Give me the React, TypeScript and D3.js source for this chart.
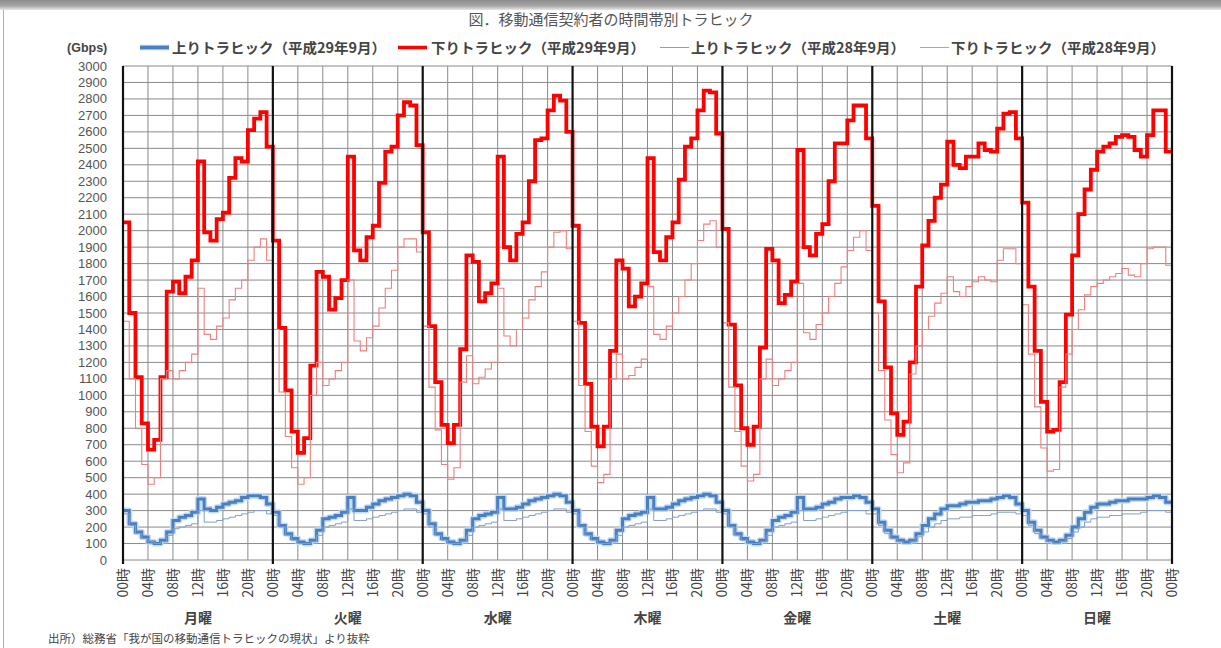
import React from 'react';
import * as d3 from 'd3';

const W = 1221;
const H = 648;

const title = '図．移動通信契約者の時間帯別トラヒック';
const unitLabel = '(Gbps)';
const source = '出所）総務省「我が国の移動通信トラヒックの現状」より抜粋';
const days = ['月曜', '火曜', '水曜', '木曜', '金曜', '土曜', '日曜'];
const hourTickHours = [0, 4, 8, 12, 16, 20];
const hourTickLabels = ['00時', '04時', '08時', '12時', '16時', '20時'];
const endTickLabel = '00時';
const seriesNames = [
  '上りトラヒック（平成29年9月）',
  '下りトラヒック（平成29年9月）',
  '上りトラヒック（平成28年9月）',
  '下りトラヒック（平成28年9月）',
];

// 上りトラヒック（平成29年9月） hourly, Mon..Sun
const upH29 = [
  [300, 220, 170, 140, 110, 100, 120, 170, 240, 260, 270, 290, 370, 310, 300, 320, 340, 350, 360, 380, 390, 390, 380, 340],
  [290, 210, 160, 130, 110, 100, 120, 180, 250, 260, 270, 290, 380, 300, 300, 320, 340, 360, 370, 380, 390, 400, 390, 350],
  [300, 220, 160, 130, 110, 100, 120, 180, 250, 270, 280, 290, 380, 310, 310, 320, 340, 360, 370, 380, 390, 400, 390, 350],
  [300, 210, 160, 130, 110, 100, 120, 180, 250, 270, 280, 290, 380, 310, 310, 320, 340, 360, 370, 380, 390, 400, 390, 350],
  [300, 210, 160, 130, 110, 100, 120, 180, 240, 260, 270, 290, 380, 310, 310, 320, 340, 350, 370, 380, 380, 390, 380, 350],
  [310, 230, 180, 140, 120, 110, 120, 160, 210, 250, 280, 310, 330, 330, 340, 350, 350, 360, 360, 370, 380, 390, 380, 340],
  [300, 230, 180, 140, 120, 110, 120, 150, 200, 250, 290, 320, 340, 340, 350, 360, 360, 370, 370, 370, 380, 390, 380, 350],
];

// 下りトラヒック（平成29年9月）
const downH29 = [
  [2050, 1500, 1110, 830, 670, 730, 1110, 1630, 1690, 1620, 1720, 1820, 2420, 1990, 1940, 2070, 2110, 2320, 2440, 2420, 2610, 2680, 2720, 2510],
  [1940, 1410, 1030, 780, 650, 740, 1180, 1750, 1720, 1520, 1590, 1700, 2450, 1880, 1820, 1960, 2030, 2290, 2480, 2510, 2700, 2780, 2760, 2520],
  [1990, 1420, 1080, 820, 710, 820, 1280, 1850, 1810, 1570, 1620, 1680, 2450, 1900, 1820, 1980, 2050, 2300, 2550, 2560, 2730, 2820, 2790, 2600],
  [2030, 1440, 1070, 810, 690, 810, 1270, 1820, 1770, 1540, 1600, 1680, 2440, 1870, 1820, 1960, 2050, 2310, 2510, 2560, 2730, 2850, 2840, 2590],
  [2010, 1430, 1060, 800, 700, 810, 1290, 1890, 1820, 1560, 1610, 1690, 2490, 1900, 1850, 1980, 2040, 2300, 2530, 2530, 2670, 2760, 2760, 2560],
  [2150, 1570, 1170, 890, 760, 840, 1200, 1660, 1910, 2060, 2200, 2280, 2540, 2400, 2380, 2450, 2450, 2530, 2490, 2480, 2620, 2710, 2720, 2560],
  [2170, 1660, 1270, 960, 780, 790, 1080, 1490, 1850, 2100, 2250, 2370, 2480, 2510, 2530, 2570, 2580, 2570, 2490, 2450, 2580, 2730, 2730, 2480],
];

// 上りトラヒック（平成28年9月）
const upH28 = [
  [280, 210, 160, 130, 110, 100, 110, 150, 190, 200, 210, 220, 300, 230, 230, 240, 250, 260, 270, 280, 290, 300, 300, 280],
  [270, 200, 150, 120, 100, 100, 110, 150, 200, 210, 220, 230, 310, 240, 240, 250, 260, 270, 280, 290, 300, 310, 310, 290],
  [280, 200, 150, 120, 100, 100, 110, 150, 200, 210, 220, 230, 310, 240, 240, 250, 260, 270, 280, 290, 300, 310, 310, 290],
  [280, 200, 150, 120, 100, 100, 110, 150, 200, 210, 220, 230, 310, 240, 240, 250, 260, 270, 280, 290, 300, 310, 310, 290],
  [280, 200, 150, 120, 100, 100, 110, 150, 200, 210, 220, 230, 300, 240, 240, 250, 260, 270, 280, 290, 300, 300, 300, 280],
  [280, 210, 160, 130, 110, 100, 110, 140, 170, 200, 220, 240, 250, 250, 260, 260, 270, 270, 270, 280, 290, 290, 290, 280],
  [270, 210, 160, 130, 110, 100, 110, 130, 170, 200, 230, 250, 260, 260, 270, 270, 280, 280, 280, 290, 300, 300, 300, 290],
];

// 下りトラヒック（平成28年9月）
const downH28 = [
  [1450, 1100, 800, 580, 460, 500, 1100, 1150, 1100, 1150, 1200, 1250, 1650, 1370, 1340, 1420, 1470, 1580, 1650, 1700, 1820, 1900, 1950, 1820],
  [1400, 1020, 750, 560, 460, 500, 1000, 1200, 1060, 1100, 1150, 1200, 1700, 1330, 1270, 1350, 1420, 1530, 1650, 1760, 1900, 1950, 1950, 1870],
  [1420, 1050, 790, 580, 490, 560, 1080, 1240, 1070, 1110, 1160, 1200, 1650, 1360, 1300, 1400, 1470, 1580, 1660, 1750, 1900, 1990, 2000, 1890],
  [1450, 1060, 780, 570, 470, 520, 1100, 1250, 1100, 1120, 1170, 1220, 1660, 1370, 1340, 1420, 1500, 1600, 1700, 1800, 1940, 2040, 2060, 1900],
  [1440, 1050, 780, 570, 480, 520, 1100, 1220, 1060, 1100, 1150, 1200, 1680, 1380, 1340, 1430, 1500, 1600, 1680, 1780, 1880, 1960, 2000, 1880],
  [1500, 1150, 850, 640, 530, 590, 1130, 1300, 1400, 1480, 1560, 1620, 1720, 1630, 1600, 1660, 1690, 1720, 1700, 1690, 1820, 1890, 1890, 1800],
  [1550, 1250, 930, 680, 540, 550, 1050, 1250, 1400, 1520, 1610, 1660, 1680, 1700, 1720, 1740, 1770, 1730, 1720, 1800, 1890, 1900, 1900, 1790],
];

const HOURS = 24;
const totalHours = days.length * HOURS;
const x = d3.scaleLinear().domain([0, totalHours]).range([123, 1172]);
const y = d3.scaleLinear().domain([0, 3000]).range([560, 66]);

const toPoints = (series: number[][]): [number, number][] => {
  const flat = series.flat();
  const pts: [number, number][] = flat.map((v, i) => [i, v]);
  pts.push([flat.length, flat[flat.length - 1]]);
  return pts;
};

const stepLine = d3
  .line<[number, number]>()
  .x((d) => x(d[0]))
  .y((d) => y(d[1]))
  .curve(d3.curveStepAfter);

const JP = '"Noto Sans CJK JP", "Noto Sans", sans-serif';
const NUM = '"Liberation Sans", Arial, sans-serif';

export default function App() {
  const yTicks = y.ticks(30);
  const gridHours: number[] = [];
  days.forEach((_, di) => hourTickHours.forEach((h) => { if (h !== 0) gridHours.push(di * HOURS + h); }));
  const dayBounds = d3.range(0, days.length + 1).map((d) => d * HOURS);

  const tickLabels: { hour: number; label: string }[] = [];
  days.forEach((_, di) => hourTickHours.forEach((h, i) => tickLabels.push({ hour: di * HOURS + h, label: hourTickLabels[i] })));
  tickLabels.push({ hour: totalHours, label: endTickLabel });

  const legend = [
    { x0: 140, tx: 172, tw: 214, color: '#4a7fc0', width: 3.5, glow: true },
    { x0: 398, tx: 431, tw: 214, color: '#ff0000', width: 3.5, glow: false },
    { x0: 660, tx: 691, tw: 214, color: '#7f9fcc', width: 1, glow: false },
    { x0: 920, tx: 951, tw: 214, color: '#f08a8a', width: 1, glow: false },
  ];

  return (
    <svg width={W} height={H} style={{ position: 'absolute', left: 0, top: 0, background: '#fff' }}>
      <defs>
        <linearGradient id="topband" x1="0" y1="0" x2="0" y2="1">
          <stop offset="0" stopColor="#8c8c8c" />
          <stop offset="0.6" stopColor="#a8a8a8" />
          <stop offset="1" stopColor="#e8e8e8" />
        </linearGradient>
      </defs>
      <rect x={0} y={0} width={W} height={10} fill="url(#topband)" />
      <line x1={3.5} y1={10} x2={3.5} y2={H} stroke="#b0b0b0" strokeWidth={1} />

      <text x={611} y={25} textAnchor="middle" fontFamily={JP} fontSize={15} fill="#555">{title}</text>

      {/* legend */}
      <text x={67} y={52} fontFamily={NUM} fontSize={12.5} fontWeight="bold" fill="#444">{unitLabel}</text>
      {legend.map((l, i) => (
        <g key={i}>
          {l.glow && <line x1={l.x0} x2={l.x0 + 29} y1={47.5} y2={47.5} stroke="#b9d2ee" strokeWidth={5.5} />}
          <line x1={l.x0} x2={l.x0 + 29} y1={47.5} y2={47.5} stroke={l.color} strokeWidth={l.width} />
          <text x={l.tx} y={53} fontFamily={JP} fontSize={14} fontWeight="bold" fill="#444" textLength={l.tw} lengthAdjust="spacingAndGlyphs">{seriesNames[i]}</text>
        </g>
      ))}

      {/* grid */}
      {yTicks.map((t) => (
        <line key={'h' + t} x1={x(0)} x2={x(totalHours)} y1={y(t)} y2={y(t)} stroke="#8a8a8a" strokeWidth={1} />
      ))}
      {gridHours.map((h) => (
        <line key={'v' + h} x1={x(h)} x2={x(h)} y1={y(3000)} y2={y(0)} stroke="#8a8a8a" strokeWidth={1} />
      ))}

      {/* series in legend order */}
      <path d={stepLine(toPoints(upH29)) || ''} fill="none" stroke="#c3daf2" strokeWidth={6} strokeLinejoin="round" />
      <path d={stepLine(toPoints(upH29)) || ''} fill="none" stroke="#4a7fc0" strokeWidth={3} />
      <path d={stepLine(toPoints(downH29)) || ''} fill="none" stroke="#ff0000" strokeWidth={3.8} />
      <path d={stepLine(toPoints(upH28)) || ''} fill="none" stroke="#7f9fcc" strokeWidth={1} />
      <path d={stepLine(toPoints(downH28)) || ''} fill="none" stroke="#ee8080" strokeWidth={1.1} />

      {/* day boundaries */}
      {dayBounds.map((h) => (
        <line key={'d' + h} x1={x(h)} x2={x(h)} y1={y(3000)} y2={y(0) + 4} stroke="#111" strokeWidth={2.2} />
      ))}

      {/* y axis labels */}
      {yTicks.map((t) => (
        <text key={'yl' + t} x={107} y={y(t) + 4.5} textAnchor="end" fontFamily={NUM} fontSize={13} fill="#555">{t}</text>
      ))}

      {/* x tick labels */}
      {tickLabels.map((t, i) => (
        <text key={'xl' + i} transform={`translate(${x(t.hour) + 5},${568}) rotate(-90)`} textAnchor="end" fontFamily={JP} fontSize={14} fill="#444">{t.label}</text>
      ))}

      {/* day labels */}
      {days.map((d, i) => (
        <text key={'dl' + i} x={x(i * HOURS + HOURS / 2)} y={623} textAnchor="middle" fontFamily={JP} fontSize={14} fontWeight="bold" fill="#444">{d}</text>
      ))}

      <text x={48} y={643} fontFamily={JP} fontSize={11.5} fill="#444">{source}</text>
    </svg>
  );
}
